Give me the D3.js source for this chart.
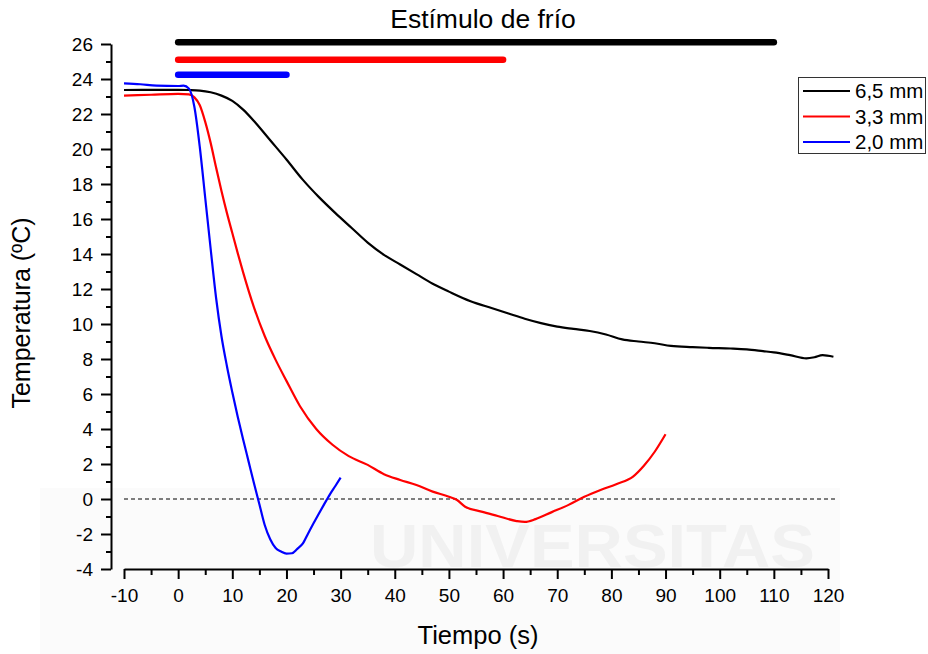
<!DOCTYPE html>
<html>
<head>
<meta charset="utf-8">
<script src="https://cdn.jsdelivr.net/npm/d3@7"></script>
<style>
  html, body { margin: 0; padding: 0; background: #fff; }
  svg text { font-family: "Liberation Sans", Arial, sans-serif; fill: #000; }
</style>
</head>
<body>
<div id="chart"></div>
<script>
// Temperature traces after a cold stimulus, three depths
const t65 = [-10, -5, 0, 2, 4, 6, 8, 10, 12, 14, 17, 20, 23, 26, 29, 32, 35, 38, 41, 44, 47, 50, 54, 58, 61, 64, 67, 70, 73, 76, 79, 82, 85, 88, 91, 95, 98, 102, 105, 108, 110, 113, 116, 117.5, 119, 121];
const v65 = [23.37, 23.38, 23.38, 23.37, 23.34, 23.24, 23.05, 22.75, 22.25, 21.6, 20.5, 19.4, 18.25, 17.25, 16.35, 15.5, 14.65, 13.95, 13.4, 12.85, 12.3, 11.85, 11.3, 10.9, 10.6, 10.3, 10.05, 9.85, 9.72, 9.6, 9.4, 9.12, 9.0, 8.9, 8.75, 8.68, 8.64, 8.6, 8.55, 8.45, 8.38, 8.22, 8.04, 8.1, 8.22, 8.13];

const t33 = [-10, -5, 0, 2, 3, 4, 5, 6, 7, 8, 9, 10, 11, 12, 14, 16, 18, 20, 22.5, 25.5, 28.5, 31.5, 35, 38, 41, 44, 47, 50, 51.5, 53, 56, 59, 62.5, 64, 66, 69, 72, 75, 78, 81, 84, 86, 88, 90];
const v33 = [23.05, 23.1, 23.15, 23.12, 22.95, 22.5, 21.55, 20.35, 18.95, 17.6, 16.35, 15.2, 14.05, 12.95, 10.95, 9.3, 7.95, 6.75, 5.3, 4.0, 3.1, 2.45, 1.95, 1.42, 1.09, 0.8, 0.42, 0.13, -0.06, -0.44, -0.72, -0.97, -1.26, -1.31, -1.15, -0.75, -0.35, 0.13, 0.52, 0.86, 1.28, 1.9, 2.7, 3.7];

const t20 = [-10, -7, -4, 0, 1, 2, 3, 4, 5, 6, 7, 8, 9, 10, 11, 12, 13, 14, 15, 16, 17, 18, 19, 20, 21, 22, 23, 24, 25, 26, 27, 28, 29, 30];
const v20 = [23.75, 23.7, 23.62, 23.6, 23.62, 23.45, 22.4, 20.1, 17.2, 14.3, 11.5, 9.3, 7.6, 6.1, 4.7, 3.4, 2.15, 0.9, -0.3, -1.5, -2.3, -2.8, -3.0, -3.12, -3.1, -2.85, -2.55, -1.97, -1.39, -0.83, -0.28, 0.25, 0.73, 1.22];

const seriesNames = ['6,5 mm', '3,3 mm', '2,0 mm'];
const seriesColors = ['#000000', '#ff0000', '#0000ff'];

// stimulus duration bars: [start, end, level]
const stimStart = [0, 0, 0];
const stimEnd = [110, 60, 20];
const stimLevel = [26.1, 25.1, 24.25];

const xTicks = d3.range(-10, 121, 10);
const yTicks = d3.range(-4, 27, 2);

const width = 928, height = 654;
const x = d3.scaleLinear().domain([-10, 120]).range([124, 828]);
const y = d3.scaleLinear().domain([-4, 26]).range([569, 44]);
const fmt = d => String(d);

const svg = d3.select('#chart').append('svg')
  .attr('width', width)
  .attr('height', height)
  .attr('viewBox', `0 0 ${width} ${height}`);

// faint watermark of the source document
const wm = svg.append('g').attr('class', 'watermark');
wm.append('rect').attr('x', 40).attr('y', 488).attr('width', 800).attr('height', 166).attr('fill', '#fbfbfb');
wm.append('text').attr('x', 370).attr('y', 567).attr('textLength', 445)
  .attr('lengthAdjust', 'spacingAndGlyphs')
  .style('font-size', '62px').style('font-weight', 'bold').style('fill', '#f1f1f1')
  .text('UNIVERSITAS');

// zero reference
svg.append('line')
  .attr('x1', x(-10)).attr('x2', x(121.3))
  .attr('y1', y(0)).attr('y2', y(0))
  .attr('stroke', '#000').attr('stroke-width', 1).attr('stroke-dasharray', '4,3');

// axes
const xAxis = svg.append('g').attr('transform', 'translate(0,569)')
  .call(d3.axisBottom(x).tickValues(xTicks).tickFormat(fmt).tickSize(10).tickSizeOuter(0).tickPadding(10));
svg.append('g').attr('transform', 'translate(0,569)')
  .call(d3.axisBottom(x).tickValues(d3.range(-5, 120, 10)).tickSize(6).tickFormat('').tickSizeOuter(0))
  .select('.domain').remove();

const yAxis = svg.append('g').attr('transform', 'translate(111,0)')
  .call(d3.axisLeft(y).tickValues(yTicks).tickFormat(fmt).tickSize(10).tickSizeOuter(0).tickPadding(8));
svg.append('g').attr('transform', 'translate(111,0)')
  .call(d3.axisLeft(y).tickValues(d3.range(-3, 26, 2)).tickSize(5).tickFormat('').tickSizeOuter(0))
  .select('.domain').remove();

svg.selectAll('.domain, .tick line').attr('stroke', '#000').attr('stroke-width', 2);
svg.selectAll('.tick text').style('font-size', '19px').attr('fill', '#000');

// axis titles
svg.append('text').attr('x', 478).attr('y', 644).attr('text-anchor', 'middle')
  .style('font-size', '25.5px').text('Tiempo (s)');
svg.append('text').attr('transform', 'translate(30,313) rotate(-90)').attr('text-anchor', 'middle')
  .style('font-size', '25px').text('Temperatura (ºC)');
svg.append('text').attr('x', 483).attr('y', 28).attr('text-anchor', 'middle')
  .style('font-size', '26.5px').text('Estímulo de frío');

// stimulus bars
svg.selectAll('.stim').data(stimEnd).join('line')
  .attr('class', 'stim')
  .attr('x1', (d, i) => x(stimStart[i])).attr('x2', d => x(d))
  .attr('y1', (d, i) => y(stimLevel[i])).attr('y2', (d, i) => y(stimLevel[i]))
  .attr('stroke', (d, i) => seriesColors[i])
  .attr('stroke-width', 6.5).attr('stroke-linecap', 'round');

// curves
const series = [
  t65.map((t, i) => [t, v65[i]]),
  t33.map((t, i) => [t, v33[i]]),
  t20.map((t, i) => [t, v20[i]])
];
const line = d3.line().x(d => x(d[0])).y(d => y(d[1])).curve(d3.curveMonotoneX);
svg.selectAll('.curve').data(series).join('path')
  .attr('class', 'curve')
  .attr('d', line)
  .attr('fill', 'none')
  .attr('stroke', (d, i) => seriesColors[i])
  .attr('stroke-width', 2.2)
  .attr('stroke-linejoin', 'round');

// legend
const lg = svg.append('g');
lg.append('rect').attr('x', 798.5).attr('y', 77.5).attr('width', 127).attr('height', 76)
  .attr('fill', '#fff').attr('stroke', '#333').attr('stroke-width', 1);
seriesNames.forEach((name, i) => {
  const ly = 91 + i * 25.5;
  lg.append('line').attr('x1', 803).attr('x2', 850).attr('y1', ly).attr('y2', ly)
    .attr('stroke', seriesColors[i]).attr('stroke-width', 2);
  lg.append('text').attr('x', 855).attr('y', ly).attr('dy', '0.35em')
    .style('font-size', '20.5px').text(name);
});
</script>
</body>
</html>
